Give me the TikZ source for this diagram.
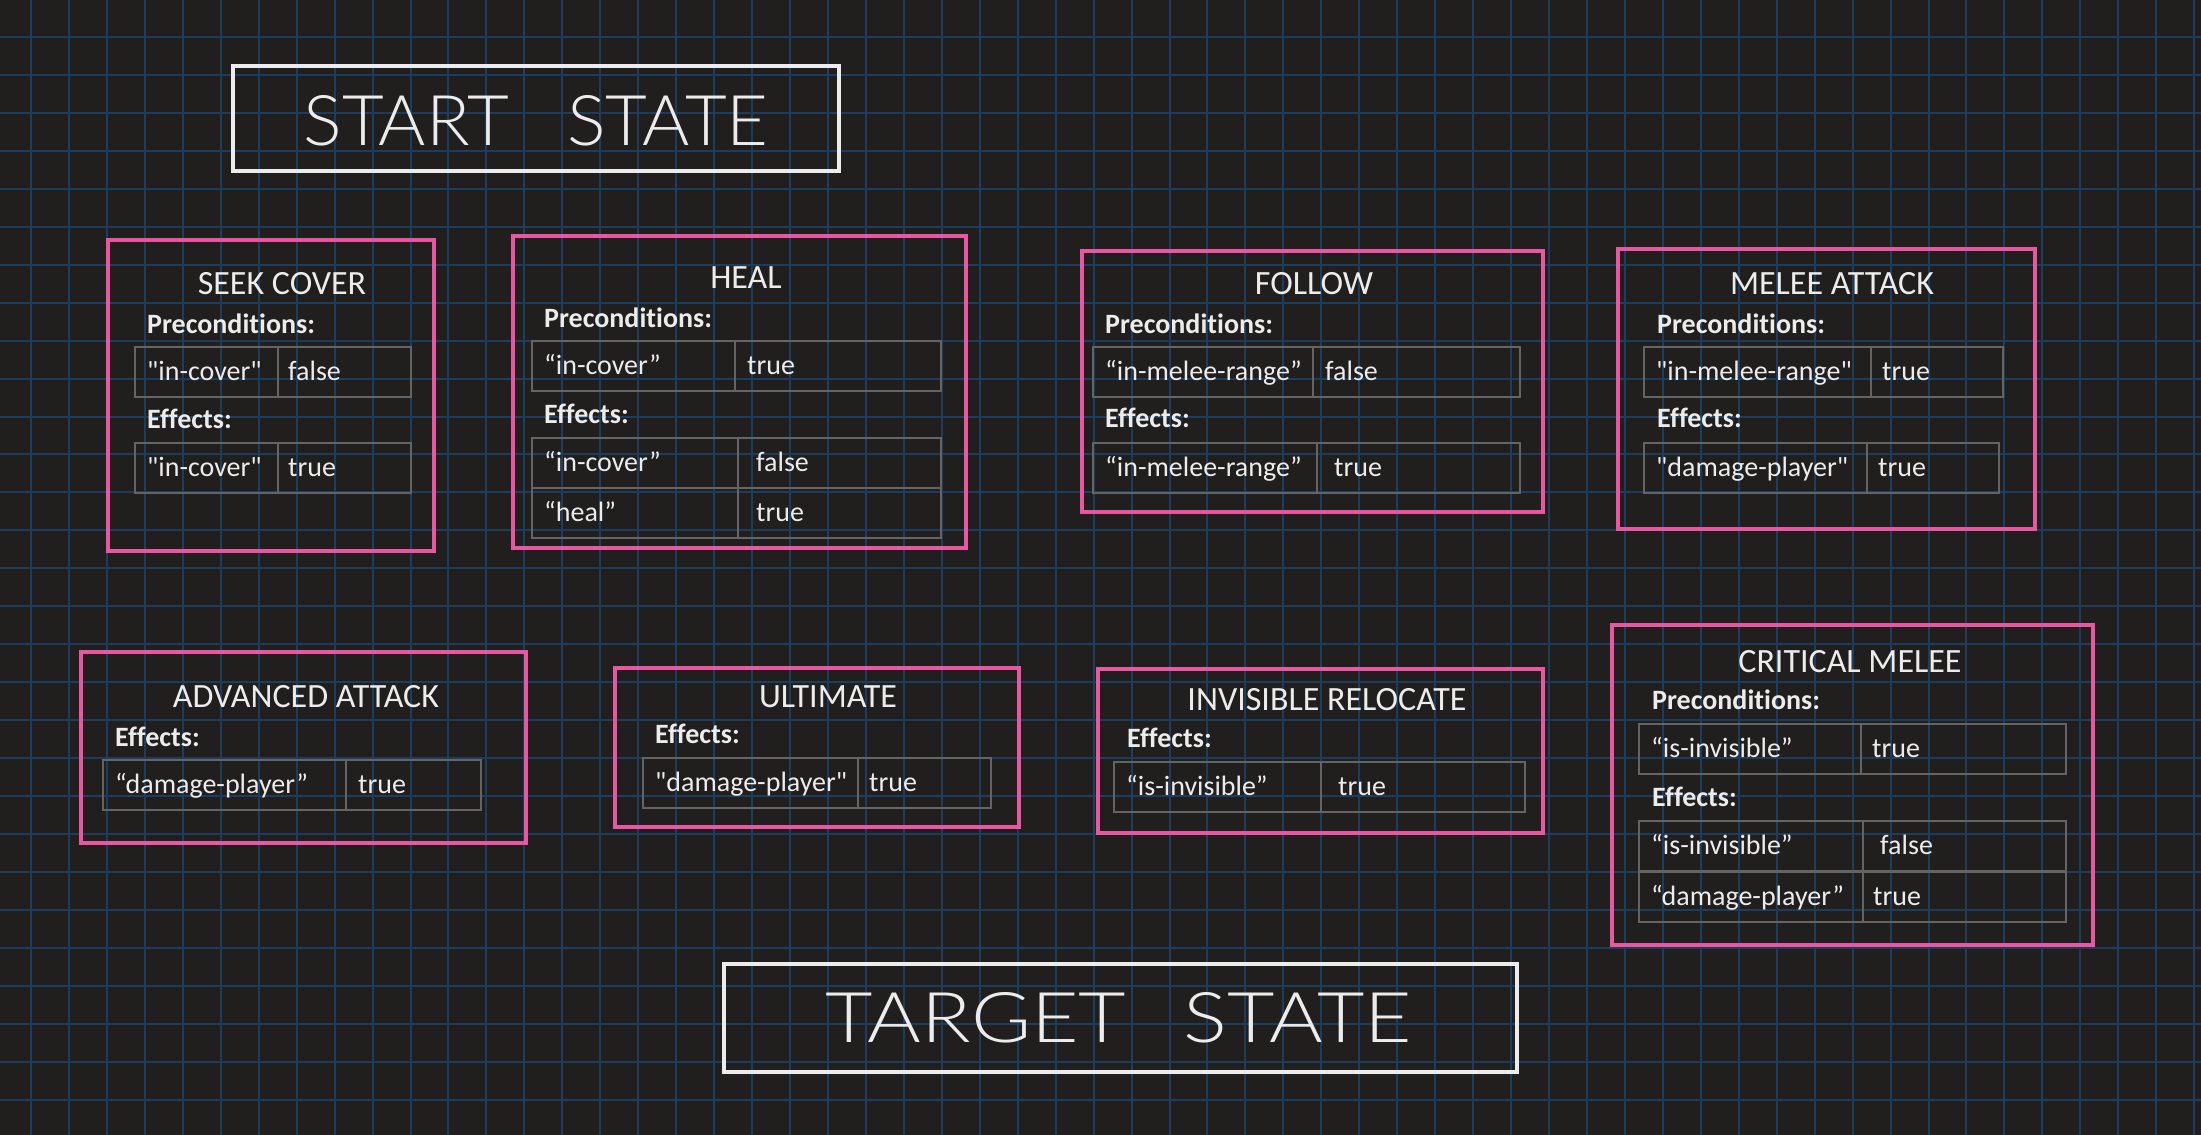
\documentclass[tikz,border=0pt]{standalone}
\usepackage{fontspec}
\setmainfont{Carlito}[Ligatures=CommonOff]
\newfontfamily\handfont{Lato}[UprightFont=* Light]
\usepackage{graphicx}

\definecolor{bgdark}{RGB}{33, 31, 30}
\definecolor{gridblue}{RGB}{30, 60, 92}
\definecolor{actpink}{RGB}{232, 88, 160}
\definecolor{cellgray}{RGB}{100, 100, 100}
\definecolor{chalk}{RGB}{236, 236, 236}

% straight double quote (kept out of the TeX quote mapping)
\newcommand{\sq}{\XeTeXglyph\XeTeXcharglyph"22\relax}

% one key/value row: name, x left, x divider, x right, y top, key, value, value offset
\newcommand{\kvrow}[8]{%
  \draw[cellline] (#2,#5) rectangle (#3,#5+50);
  \draw[cellline] (#3,#5) rectangle (#4,#5+50);
  \node[celltext] (#1-key) at (#2+12,#5+33) {#6};
  \node[celltext] (#1-val) at (#3+#8,#5+33) {#7};
}

\begin{document}
\begin{tikzpicture}[x=1pt, y=-1pt,
  gridline/.style={draw=gridblue, line width=2pt},
  statebox/.style={draw=chalk, line width=3.5pt},
  actbox/.style={draw=actpink, line width=4pt},
  cellline/.style={draw=cellgray, line width=2pt},
  handtext/.style={text=chalk, inner sep=0pt},
  acttitle/.style={font=\fontsize{34}{40}\selectfont, text=chalk, anchor=base, inner sep=0pt},
  sechead/.style={font=\fontsize{28}{32}\selectfont\bfseries, text=chalk, anchor=base west, inner sep=0pt},
  celltext/.style={font=\fontsize{28}{32}\selectfont, text=chalk, anchor=base west, inner sep=0pt}]

  % Background and grid
  \fill[bgdark] (0,0) rectangle (2201,1135);
  \useasboundingbox (0,0) rectangle (2201,1135);
  \foreach \i in {0,...,57} \draw[gridline] (31+37.95*\i,0) -- (31+37.95*\i,1135);
  \foreach \j in {0,...,28} \draw[gridline] (0,37+37.95*\j) -- (2201,37+37.95*\j);

  % Start state
  \draw[statebox] (233,66) rectangle (839,171);
  \node[handtext] (start) at (536,121) {\resizebox{465pt}{50pt}{\handfont START\hspace{0.8em}STATE}};

  % Seek cover
  \draw[actbox] (108,240) rectangle (434,551);
  \node[acttitle] (seek) at (282,294) {SEEK COVER};
  \node[sechead] (seek-pre) at (147,333) {Preconditions:};
  \kvrow{seek-p1}{135}{278}{411}{347}{\sq in-cover\sq}{false}{10}
  \node[sechead] (seek-eff) at (147,428) {Effects:};
  \kvrow{seek-e1}{135}{278}{411}{443}{\sq in-cover\sq}{true}{10}

  % Heal
  \draw[actbox] (513,236) rectangle (966,548);
  \node[acttitle] (heal) at (746,288) {HEAL};
  \node[sechead] (heal-pre) at (544,327) {Preconditions:};
  \kvrow{heal-p1}{532}{735}{941}{341}{“in-cover”}{true}{12}
  \node[sechead] (heal-eff) at (544,423) {Effects:};
  \kvrow{heal-e1}{532}{738}{941}{438}{“in-cover”}{false}{18}
  \kvrow{heal-e2}{532}{738}{941}{488}{“heal”}{true}{18}

  % Follow
  \draw[actbox] (1082,251) rectangle (1543,512);
  \node[acttitle] (follow) at (1314,294) {FOLLOW};
  \node[sechead] (follow-pre) at (1105,333) {Preconditions:};
  \kvrow{follow-p1}{1093}{1313}{1520}{347}{“in-melee-range”}{false}{12}
  \node[sechead] (follow-eff) at (1105,427) {Effects:};
  \kvrow{follow-e1}{1093}{1317}{1520}{443}{“in-melee-range”}{true}{17}

  % Melee attack
  \draw[actbox] (1618,249) rectangle (2035,529);
  \node[acttitle] (melee) at (1832,294) {MELEE ATTACK};
  \node[sechead] (melee-pre) at (1657,333) {Preconditions:};
  \kvrow{melee-p1}{1644}{1871}{2003}{347}{\sq in-melee-range\sq}{true}{11}
  \node[sechead] (melee-eff) at (1657,427) {Effects:};
  \kvrow{melee-e1}{1644}{1867}{1999}{443}{\sq damage-player\sq}{true}{11}

  % Advanced attack
  \draw[actbox] (81,652) rectangle (526,843);
  \node[acttitle] (advanced) at (306,707) {ADVANCED ATTACK};
  \node[sechead] (advanced-eff) at (115,746) {Effects:};
  \kvrow{advanced-e1}{103}{346}{481}{760}{“damage-player”}{true}{12}

  % Ultimate
  \draw[actbox] (615,668) rectangle (1019,827);
  \node[acttitle] (ultimate) at (828,707) {ULTIMATE};
  \node[sechead] (ultimate-eff) at (655,743) {Effects:};
  \kvrow{ultimate-e1}{643}{858}{991}{758}{\sq damage-player\sq}{true}{11}

  % Invisible relocate
  \draw[actbox] (1098,669) rectangle (1543,833);
  \node[acttitle] (invisible) at (1327,710) {INVISIBLE RELOCATE};
  \node[sechead] (invisible-eff) at (1127,747) {Effects:};
  \kvrow{invisible-e1}{1114}{1321}{1525}{762}{“is-invisible”}{true}{17}

  % Critical melee
  \draw[actbox] (1612,625) rectangle (2093,945);
  \node[acttitle] (critical) at (1850,672) {CRITICAL MELEE};
  \node[sechead] (critical-pre) at (1652,709) {Preconditions:};
  \kvrow{critical-p1}{1639}{1861}{2066}{724}{“is-invisible”}{true}{11}
  \node[sechead] (critical-eff) at (1652,806) {Effects:};
  \kvrow{critical-e1}{1639}{1863}{2066}{821}{“is-invisible”}{false}{17}
  \kvrow{critical-e2}{1639}{1863}{2066}{872}{“damage-player”}{true}{10}

  % Target state
  \draw[statebox] (724,964) rectangle (1517,1072);
  \node[handtext] (target) at (1119,1018) {\resizebox{586pt}{50pt}{\handfont TARGET\hspace{0.7em}STATE}};
\end{tikzpicture}
\end{document}
